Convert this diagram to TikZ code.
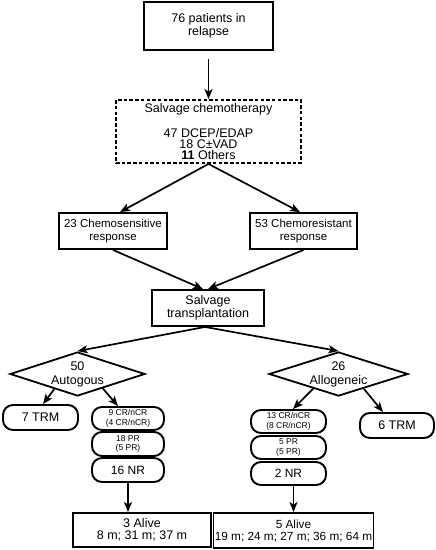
\documentclass[tikz,border=0pt]{standalone}
\usepackage{fontspec}
\setmainfont{Liberation Sans}
\usetikzlibrary{shapes.geometric,arrows.meta,calc}
\newcommand{\mainf}{\fontsize{12.5}{13.5}\selectfont}
\newcommand{\smallf}{\fontsize{8.5}{9.5}\selectfont}
\begin{document}
\begin{tikzpicture}[x=1pt,y=-1pt,
  box/.style={draw,line width=1.9pt,inner sep=0pt,align=center,font=\mainf},
  rbox/.style={draw,line width=1.9pt,inner sep=0pt,align=center,rounded corners=10pt,font=\mainf},
  diam/.style={draw,diamond,aspect=3.07,line width=1.8pt,inner sep=0pt,align=center,
    minimum width=135pt,minimum height=44pt,font=\fontsize{12.5}{14}\selectfont},
  arr/.style={line width=1.7pt,-{Stealth[length=10pt,width=8pt,inset=2.5pt]}},
  dashbox/.style={dash pattern=on 3.5pt off 2.2pt}]
\useasboundingbox (0,0) rectangle (436,550);
\node[box,minimum width=129pt,minimum height=48pt] (relapse) at (208.5,26) {76 patients in\\relapse};
\node[box,dashbox,minimum width=185pt,minimum height=63pt,font=\fontsize{12.5}{11}\selectfont] (chemo) at (208.5,131.5)
  {Salvage chemotherapy\\[13pt]47 DCEP/EDAP\\18 C±VAD\\\textbf{11} Others};
\node[box,minimum width=108pt,minimum height=36pt,font=\fontsize{11.5}{13}\selectfont] (sens) at (113,231) {23 Chemosensitive\\response};
\node[box,minimum width=107pt,minimum height=36pt,font=\fontsize{11.5}{13}\selectfont] (resist) at (303.5,231) {53 Chemoresistant\\response};
\node[box,minimum width=112pt,minimum height=36pt,font=\fontsize{12.5}{12.5}\selectfont] (transp) at (208,308) {Salvage\\transplantation};
\node[diam] (dl) at (77.5,374) {50\\Autogous};
\node[diam,minimum width=139pt] (dr) at (338.5,374) {26\\Allogeneic};
\node[rbox,minimum width=75pt,minimum height=25pt] (trm1) at (40.5,417.5) {7 TRM};
\node[rbox,minimum width=72pt,minimum height=23pt,font=\smallf] (cr1) at (128,418.5) {9 CR/nCR\\(4 CR/nCR)};
\node[rbox,minimum width=72pt,minimum height=24pt,font=\smallf] (pr1) at (128,444) {18 PR\\(5 PR)};
\node[rbox,minimum width=72pt,minimum height=24pt,font=\fontsize{12}{13}\selectfont] (nr1) at (128,470) {16 NR};
\node[rbox,minimum width=75pt,minimum height=23pt,font=\smallf] (cr2) at (288.5,421.5) {13 CR/nCR\\(8 CR/nCR)};
\node[rbox,minimum width=75pt,minimum height=23pt,font=\smallf] (pr2) at (288.5,447.5) {5 PR\\(5 PR)};
\node[rbox,minimum width=75pt,minimum height=23pt,font=\fontsize{12}{13}\selectfont] (nr2) at (288.5,473.5) {2 NR};
\node[rbox,minimum width=74pt,minimum height=25pt] (trm2) at (397,425.5) {6 TRM};
\node[box,minimum width=138pt,minimum height=34pt,font=\fontsize{12.5}{12}\selectfont] (alive1) at (142,530) {3 Alive\\8 m; 31 m; 37 m};
\node[box,minimum width=160pt,minimum height=35pt,font=\fontsize{11.8}{12}\selectfont] (alive2) at (293.5,530.5) {5 Alive\\19 m; 24 m; 27 m; 36 m; 64 m};
\draw[arr,shorten <=8pt] (relapse.south) -- (chemo.north);
\draw[arr] (chemo.south) -- ($(sens.north)+(7,0)$);
\draw[arr] (chemo.south) -- ($(resist.north)+(-3.5,0)$);
\draw[arr] (sens.south) -- ($(transp.north)+(-5,0)$);
\draw[arr] (resist.south) -- (transp.north);
\draw[arr] ($(transp.south)+(-3,0)$) -- (dl.north);
\draw[arr] ($(transp.south)+(-3,0)$) -- (dr.north);
\draw[arr] ($(dl.west)!0.66!(dl.south)$) -- ($(trm1.north)+(2.5,0)$);
\draw[arr] ($(dl.south)!0.37!(dl.east)$) -- ($(cr1.north)+(-10,0)$);
\draw[arr] ($(dr.west)!0.64!(dr.south)$) -- ($(cr2.north)+(4.5,0)$);
\draw[arr] ($(dr.south)!0.36!(dr.east)$) -- ($(trm2.north)+(-14,0)$);
\draw[arr] (nr1.south) -- (nr1.south |- alive1.north);
\draw[arr] (alive2.north |- nr2.south) -- (alive2.north);
\end{tikzpicture}
\end{document}
